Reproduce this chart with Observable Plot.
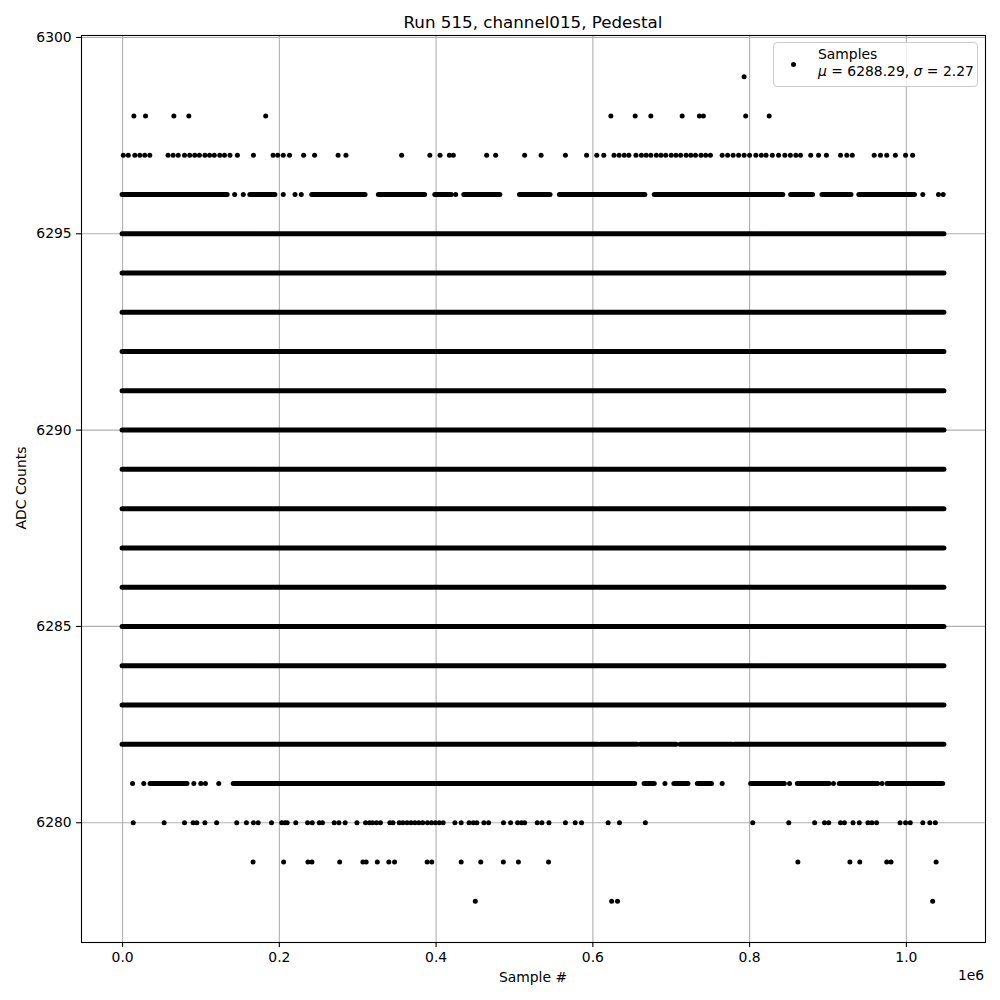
<!DOCTYPE html>
<html>
<head>
<meta charset="utf-8">
<script src="https://cdn.jsdelivr.net/npm/d3@7"></script>
<script src="https://cdn.jsdelivr.net/npm/@observablehq/plot@0.6"></script>
<style>
  body { margin: 0; background: #fff; }
  #wrap { position: relative; width: 1000px; height: 1000px; font-family: "DejaVu Sans", sans-serif; color: #000; }
  .lbl { position: absolute; white-space: nowrap; transform: translate(-50%, -50%); }
  #legend { position: absolute; left: 773px; top: 42px; width: 203px; height: 43px; border: 1px solid #cccccc; border-radius: 4px; background: rgba(255,255,255,0.8); font-size: 13.9px; }
  #legend .mk { position: absolute; left: 17px; top: 19px; width: 5px; height: 5px; border-radius: 50%; background: #000; }
  #legend .t1 { position: absolute; left: 44px; top: 3px; }
  #legend .t2 { position: absolute; left: 44px; top: 20px; }
</style>
</head>
<body>
<div id="wrap"></div>
<script>
// ---- text ----
const titleText = "Run 515, channel015, Pedestal";
const xLabel = "Sample #";
const yLabel = "ADC Counts";
const xOffsetLabel = "1e6";
const legendName = "Samples";
const legendMu = "6288.29";
const legendSigma = "2.27";

// ---- ticks ----
const xTicks = [0, 200000, 400000, 600000, 800000, 1000000];
const yTicks = [6280, 6285, 6290, 6295, 6300];

// ---- data (sample index ranges that are densely filled, and isolated samples) ----
const sampleMax = 1048575;
const fullBandLevels = [6283, 6284, 6285, 6286, 6287, 6288, 6289, 6290, 6291, 6292, 6293, 6294, 6295];
const band6296 = [[0,134000],[163000,195000],[242000,310000],[327000,386000],[399000,420000],[436000,482000],[507000,546000],[558000,667000],[679000,843000],[853000,881000],[893000,930000],[940000,1011000]];
const band6282 = [[0,607000],[610000,657000],[661000,707000],[712000,778000],[781000,1048575]];
const band6281 = [[35700,82800],[141800,654000],[666000,679000],[704000,722000],[734000,752000],[802000,845000],[861600,902000],[915000,964000],[976000,1047000]];

const dots6299 = [793000];
const dots6298 = [14400, 29300, 65400, 84500, 182600, 623000, 654000, 674000, 714000, 736000, 741000, 795000, 825000];
const dots6297 = [900, 7300, 15600, 22000, 28300, 34700, 58000, 64500, 71000, 79000, 85600, 92000, 98000, 105000, 111000, 117000, 124000, 130000, 137000, 146500, 167000, 192000, 198000, 205000, 213000, 231000, 245000, 275000, 285000, 356000, 392000, 405000, 417000, 422000, 464500, 476000, 513000, 534000, 565000, 592000, 605000, 614000, 627000, 633500, 640000, 646000, 655000, 662000, 668000, 674000, 681000, 687000, 693000, 700000, 706000, 712000, 719000, 725000, 731000, 738000, 744000, 750000, 765000, 772000, 779000, 786000, 793000, 800000, 808000, 815000, 821000, 829000, 837000, 845000, 852000, 859000, 865000, 878000, 888000, 898000, 916000, 924000, 931000, 959000, 967000, 975000, 986000, 999000, 1008000];
const dots6296 = [143000, 154000, 205000, 220000, 228000, 425000, 1021000, 1041000, 1047000];
const dots6281 = [12700, 27000, 90900, 99800, 105700, 122700, 692000, 765000, 851000, 907000, 969000];
const dots6280 = [13600, 53000, 79000, 90000, 94700, 105000, 120000, 145600, 158000, 167000, 173000, 190000, 203000, 207000, 210000, 221000, 236000, 242000, 251000, 255000, 270000, 276000, 284000, 299000, 310000, 315000, 319000, 324000, 329000, 341000, 345000, 353000, 357600, 363000, 368000, 373000, 378000, 383000, 389000, 394000, 399000, 404000, 409000, 424000, 432000, 442000, 447500, 452000, 461000, 467000, 486000, 495000, 504000, 509000, 513000, 529000, 535000, 544000, 565000, 577500, 585600, 619500, 634000, 667000, 804000, 850000, 883000, 895600, 901000, 916000, 921000, 932000, 940000, 951000, 956000, 962000, 992000, 999000, 1005000, 1021000, 1030000, 1037000];
const dots6279 = [166500, 205500, 236500, 241600, 277000, 306600, 310800, 325000, 339700, 347000, 388600, 394500, 432000, 457000, 485800, 505000, 543500, 861600, 928000, 940600, 975000, 980500, 1038000];
const dots6278 = [450000, 624000, 631500, 1033600];

// ---- tables for the marks ----
const segments = [
  ...fullBandLevels.map(v => ({v, a: 0, b: sampleMax})),
  ...band6296.map(([a, b]) => ({v: 6296, a, b})),
  ...band6282.map(([a, b]) => ({v: 6282, a, b})),
  ...band6281.map(([a, b]) => ({v: 6281, a, b}))
];
const dotRows = [[6299, dots6299], [6298, dots6298], [6297, dots6297], [6296, dots6296], [6281, dots6281], [6280, dots6280], [6279, dots6279], [6278, dots6278]];
const points = dotRows.flatMap(([v, xs]) => xs.map(x => ({v, x})));

// matplotlib-style 5% margins
const xr = sampleMax - 0, yr = 6299 - 6278;
const xDomain = [0 - 0.05 * xr, sampleMax + 0.05 * xr];
const yDomain = [6278 - 0.05 * yr, 6299 + 0.05 * yr];

const chart = Plot.plot({
  width: 1000,
  height: 1000,
  marginLeft: 81,
  marginRight: 15,
  marginTop: 35,
  marginBottom: 58,
  style: {fontFamily: "DejaVu Sans, sans-serif", fontSize: "13.9px", color: "#000", background: "#fff"},
  x: {domain: xDomain},
  y: {domain: yDomain},
  marks: [
    Plot.gridX(xTicks, {stroke: "#b0b0b0", strokeOpacity: 1, strokeWidth: 1.1}),
    Plot.gridY(yTicks, {stroke: "#b0b0b0", strokeOpacity: 1, strokeWidth: 1.1}),
    Plot.ruleY(segments, {y: "v", x1: "a", x2: "b", stroke: "#000", strokeWidth: 5, strokeLinecap: "round"}),
    Plot.dot(points, {x: "x", y: "v", r: 2.5, fill: "#000", stroke: "none"}),
    Plot.axisX({ticks: xTicks, tickFormat: d => (d / 1e6).toFixed(1), tickSize: 4.9, tickPadding: 4.9, strokeWidth: 1.1, label: null}),
    Plot.axisY({ticks: yTicks, tickFormat: d => String(d), tickSize: 4.9, tickPadding: 4.9, strokeWidth: 1.1, label: null}),
    Plot.frame({stroke: "#000", strokeWidth: 1.1})
  ]
});

const wrap = document.getElementById("wrap");
wrap.appendChild(chart);

function addLabel(text, x, y, size, extra) {
  const d = document.createElement("div");
  d.className = "lbl";
  d.textContent = text;
  d.style.left = x + "px";
  d.style.top = y + "px";
  d.style.fontSize = size + "px";
  if (extra) Object.assign(d.style, extra);
  wrap.appendChild(d);
  return d;
}
addLabel(titleText, 533, 22, 16.7);
addLabel(xLabel, 533, 977, 13.9);
addLabel(yLabel, 21, 488, 13.9, {transform: "translate(-50%, -50%) rotate(-90deg)"});
addLabel(xOffsetLabel, 971, 975, 13.9);

const leg = document.createElement("div");
leg.id = "legend";
leg.innerHTML = `<div class="mk"></div><div class="t1">${legendName}</div><div class="t2"><i>μ</i> = ${legendMu}, <i>σ</i> = ${legendSigma}</div>`;
wrap.appendChild(leg);
</script>
</body>
</html>
